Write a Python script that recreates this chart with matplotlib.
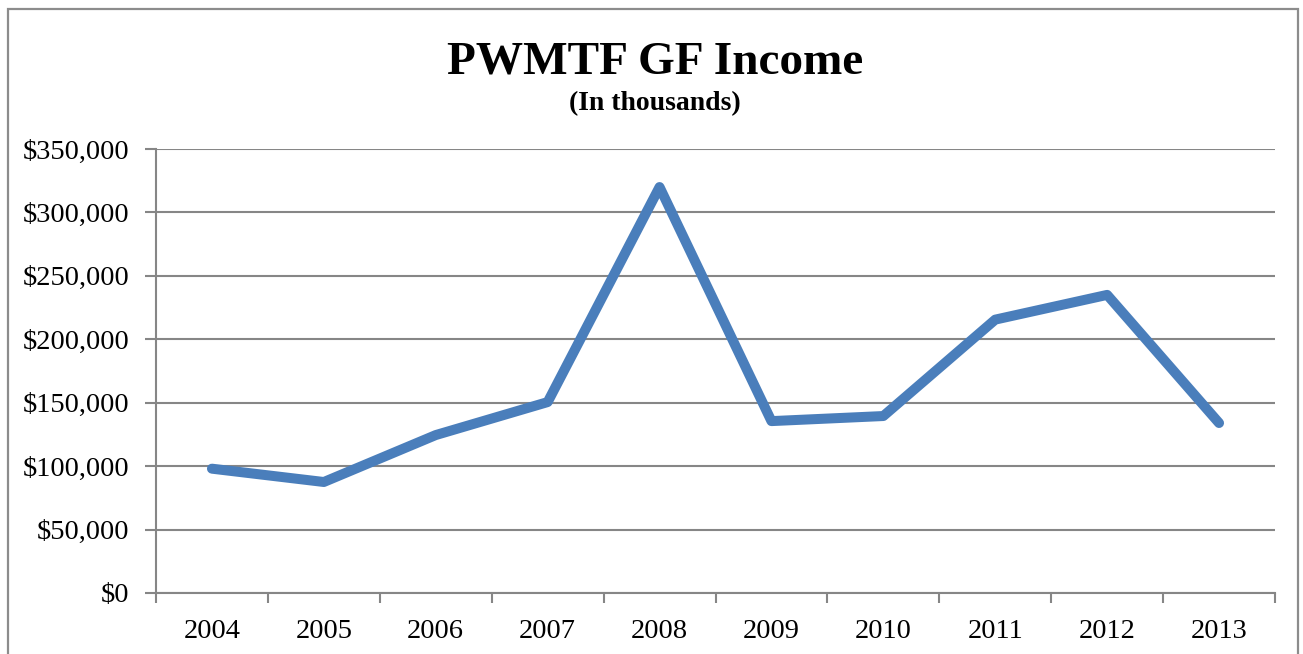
import matplotlib
matplotlib.use('Agg')
import matplotlib.pyplot as plt
from matplotlib.patches import Rectangle
from matplotlib.ticker import FuncFormatter
import numpy as np

years = ["2004", "2005", "2006", "2007", "2008", "2009", "2010", "2011", "2012", "2013"]
income = [98000, 87500, 124500, 150500, 320000, 135500, 139500, 215500, 235000, 134000]
y_ticks = [0, 50000, 100000, 150000, 200000, 250000, 300000, 350000]

LINE = "#4a7ebb"
GRID = "#868686"
FONT = "Liberation Serif"

fig = plt.figure(figsize=(13.03, 6.54), dpi=100)
fig.patch.set_facecolor("white")

# outer chart border
fig.add_artist(Rectangle((7.5 / 1303, -0.05), (1298 - 7.5) / 1303, 1.05 - 8.5 / 654,
                         transform=fig.transFigure, fill=False,
                         edgecolor="#8c8c8c", lw=1.6))

ax = fig.add_axes([156 / 1303, 1 - 593 / 654, (1275 - 156) / 1303, (593 - 149) / 654])

x = np.arange(len(years))
ax.plot(x, income, color=LINE, lw=7.2, solid_capstyle="round",
        solid_joinstyle="round", zorder=3)

ax.set_xlim(-0.5, len(years) - 0.5)
ax.set_ylim(0, 350000)
ax.set_yticks(y_ticks)
ax.yaxis.set_major_formatter(FuncFormatter(lambda v, p: "${:,.0f}".format(v)))
ax.set_xticks(x)
ax.set_xticklabels(years)
ax.set_xticks(np.arange(-0.5, len(years)), minor=True)

ax.grid(axis="y", color=GRID, lw=1.5, zorder=1)
for s in ["top", "right"]:
    ax.spines[s].set_visible(False)
for s in ["left", "bottom"]:
    ax.spines[s].set_color(GRID)
    ax.spines[s].set_linewidth(1.5)

ax.tick_params(axis="y", length=8, width=1.5, color=GRID, pad=11,
               labelsize=20.5, labelcolor="black")
ax.tick_params(axis="x", which="major", length=0, pad=19,
               labelsize=20.5, labelcolor="black")
ax.tick_params(axis="x", which="minor", length=7, width=1.5, color=GRID)
for lab in ax.get_xticklabels() + ax.get_yticklabels():
    lab.set_fontfamily(FONT)

fig.text(655 / 1303, 1 - 62 / 654, "PWMTF GF Income", ha="center", va="center",
         fontsize=34, fontweight="bold", family=FONT)
fig.text(655 / 1303, 1 - 104 / 654, "(In thousands)", ha="center", va="center",
         fontsize=20, fontweight="bold", family=FONT)

fig.savefig("out.png", dpi=100, facecolor="white")
